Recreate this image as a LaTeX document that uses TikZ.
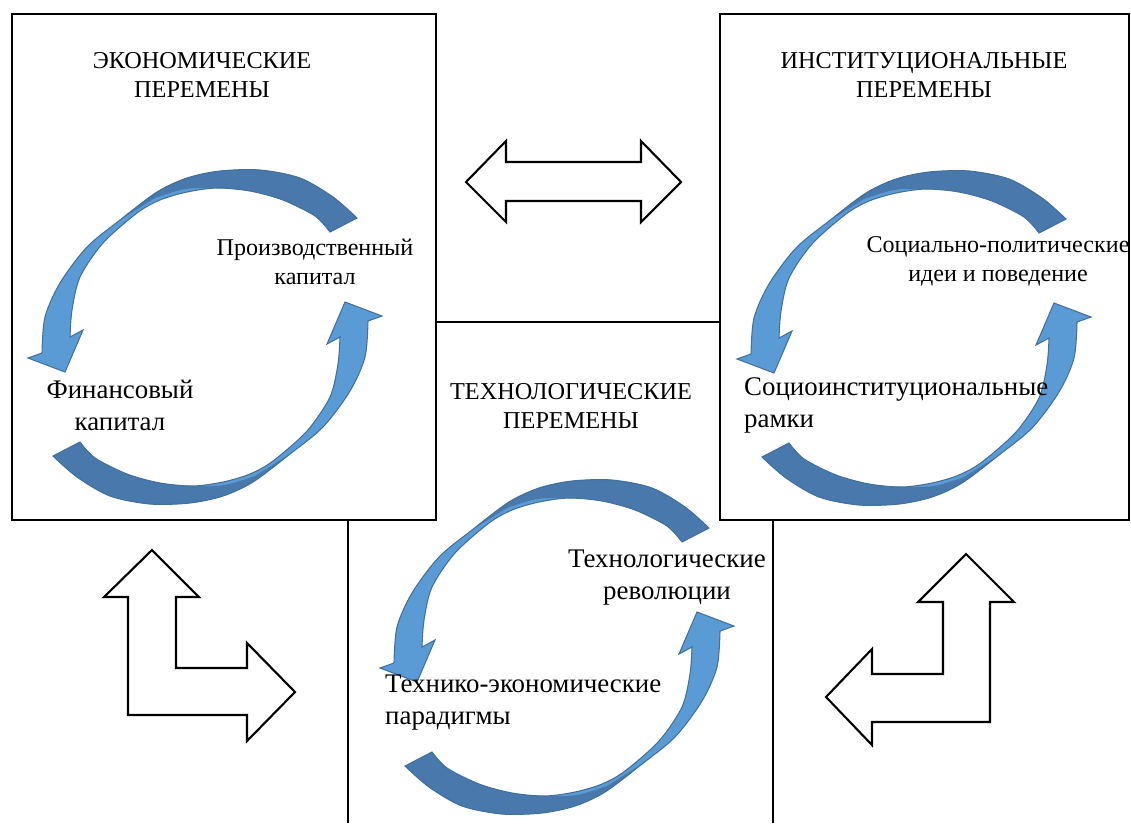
\documentclass[tikz,border=0pt]{standalone}
\usepackage{fontspec}
\setmainfont{Liberation Serif}
\usepackage{xcolor}
\usepackage{tikz}
\definecolor{cyclelight}{HTML}{5B9BD5}
\definecolor{cycledark}{HTML}{4878AC}
\definecolor{cycleline}{HTML}{41719C}
\tikzset{panel/.style={draw,line width=1.2pt},
  blockarrow/.style={draw,fill=white,line width=1.2pt,line join=miter},
  heading/.style={align=center,font=\fontsize{13.8}{16}\selectfont},
  smalllabel/.style={align=center,font=\fontsize{13.7}{16.4}\selectfont},
  biglabel/.style={align=left,font=\fontsize{15.3}{18.2}\selectfont}}
% one half of a cycle, centred on the origin
\newcommand{\cyclearrow}{plot[smooth] coordinates {(152,-119) (128,-140) (95,-159) (55,-167) (15,-166) (-18,-159) (-48,-145) (-85,-117) (-118,-90) (-145,-54) (-160,-20) (-163,16)}
  -- (-177,21) -- (-140,35) -- (-122,-7)
  -- plot[smooth] coordinates {(-135,0) (-133,-27) (-125,-60) (-102,-94) (-68,-124) (-45,-137) (-18,-145) (12,-149) (45,-146) (78,-137) (110,-121) (125,-105)} -- cycle}
\newcommand{\cycleback}{plot[smooth] coordinates {(152,-119) (128,-140) (95,-159) (55,-167) (15,-166) (-18,-159) (-48,-145) (-85,-117)}
  -- plot[smooth] coordinates {(-50,-139) (-20,-148) (12,-149) (45,-146) (78,-137) (110,-121) (125,-105)} -- cycle}

\begin{document}
\begin{tikzpicture}[x=0.02cm,y=-0.02cm]
    \useasboundingbox (0,0) rectangle (1131,823);

    % panels
    \draw[panel] (348,823) -- (348,322) -- (773,322) -- (773,823);
    \draw[panel,fill=white] (12,14) rectangle (436,520);
    \draw[panel,fill=white] (720,14) rectangle (1129,520);

    % cycles
    \foreach \cx/\cy in {205/337,914/338,557/647}
    \foreach \ang in {0,180}
    {
        \begin{scope}[shift={(\cx,\cy)},rotate=\ang]
            \fill[cyclelight] \cyclearrow;
            \fill[cycledark] \cycleback;
            \draw[cycleline,line width=0.6pt,line join=miter] \cyclearrow;
        \end{scope}
    }

    % block arrows
    \draw[blockarrow] (466,182) -- (506,141) -- (506,162) -- (641,162) -- (641,141) -- (681,182)
        -- (641,222) -- (641,201) -- (506,201) -- (506,222) -- cycle;
    \draw[blockarrow] (152,550) -- (199,597) -- (176,597) -- (176,668) -- (247,668) -- (247,643)
        -- (295,692) -- (247,741) -- (247,715) -- (128,715) -- (128,597) -- (104,597) -- cycle;
    \draw[blockarrow] (966,554) -- (1014,602) -- (990,602) -- (990,722) -- (872,722) -- (872,745)
        -- (826,697) -- (872,649) -- (872,674) -- (943,674) -- (943,602) -- (918,602) -- cycle;

    % texts
    \node[heading] (econ) at (202,75) {ЭКОНОМИЧЕСКИЕ\\ПЕРЕМЕНЫ};
    \node[heading] (inst) at (924,75) {ИНСТИТУЦИОНАЛЬНЫЕ\\ПЕРЕМЕНЫ};
    \node[heading] (tech) at (571,406) {ТЕХНОЛОГИЧЕСКИЕ\\ПЕРЕМЕНЫ};
    \node[smalllabel] (prod) at (315,262) {Производственный\\капитал};
    \node[biglabel,align=center] (fin) at (120,405) {Финансовый\\капитал};
    \node[smalllabel] (idea) at (998,261) {Социально-политические\\идеи и поведение};
    \node[biglabel,anchor=west] (frame) at (738,405) {Социоинституциональные\\рамки};
    \node[biglabel,align=center] (rev) at (667,578) {Технологические\\революции};
    \node[biglabel,anchor=west] (parad) at (379,703) {Технико-экономические\\парадигмы};
\end{tikzpicture}
\end{document}
